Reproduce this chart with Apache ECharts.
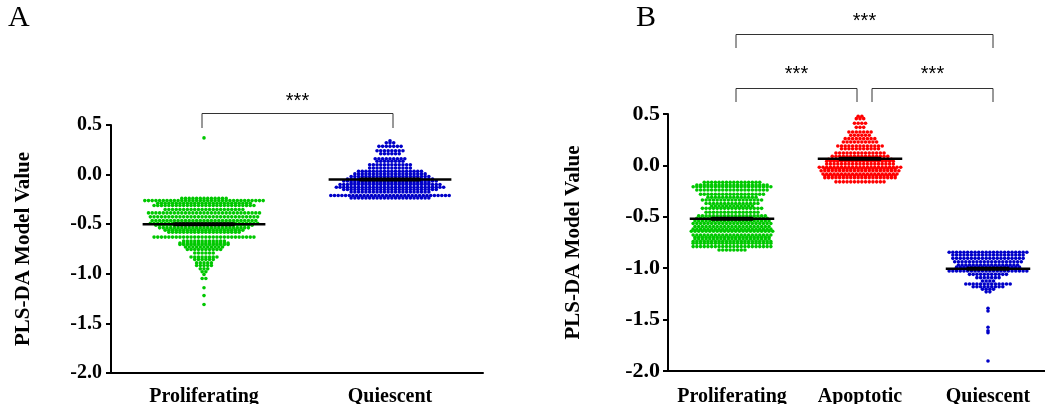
<!DOCTYPE html>
<html lang="en">
<head>
<meta charset="UTF-8">
<title>PLS-DA Model Value</title>
<script src="https://cdn.jsdelivr.net/npm/echarts@6/dist/echarts.min.js"></script>
<style>
    *{
        margin: 0;
        padding: 0;
    }
    html, body{
        width: 1045px;
        height: 404px;
        background: #fff;
    }
    .container{
        width: 1045px;
        height: 404px;
    }
</style>
</head>
<body>
<div class="container"></div>
<script>
    // each row: [value, number of dots lying side by side at that value]
    let aProliferating = [[0.37,1],[-0.24,13],[-0.262,33],[-0.29,26],[-0.312,28],[-0.352,22],[-0.386,31],
        [-0.426,30],[-0.463,29],[-0.49,30],[-0.51,27],[-0.537,25],[-0.56,22],[-0.58,20],[-0.63,28],
        [-0.67,12],[-0.69,14],[-0.705,14],[-0.73,11],[-0.755,10],[-0.79,6],[-0.83,8],[-0.855,6],
        [-0.89,5],[-0.916,5],[-0.95,3],[-0.98,2],[-1.007,1],[-1.047,2],[-1.14,1],[-1.22,1],[-1.31,1]];
    let aQuiescent = [[0.34,1],[0.32,3],[0.285,7],[0.24,8],[0.21,6],[0.16,9],[0.135,8],[0.10,12],
        [0.067,12],[0.034,18],[0.007,20],[-0.02,22],[-0.045,24],[-0.065,26],[-0.084,22],[-0.10,28],
        [-0.128,30],[-0.15,26],[-0.175,22],[-0.21,33],[-0.235,22]];
    let bProliferating = [[-0.165,16],[-0.19,20],[-0.207,22],[-0.24,20],[-0.28,18],[-0.31,14],[-0.336,17],
        [-0.37,15],[-0.395,12],[-0.418,17],[-0.456,15],[-0.49,19],[-0.515,20],[-0.54,21],[-0.565,22],
        [-0.595,21],[-0.62,22],[-0.64,23],[-0.677,22],[-0.70,21],[-0.716,21],[-0.74,22],[-0.758,22],
        [-0.79,22],[-0.823,8]];
    let bApoptotic = [[0.478,2],[0.455,3],[0.41,4],[0.37,3],[0.325,7],[0.293,6],[0.26,9],[0.228,10],
        [0.189,13],[0.162,11],[0.12,14],[0.088,16],[0.06,18],[0.04,19],[0.014,19],[-0.018,23],
        [-0.035,20],[-0.052,22],[-0.084,21],[-0.10,20],[-0.12,20],[-0.16,14]];
    let bQuiescent = [[-0.845,22],[-0.872,20],[-0.904,20],[-0.937,19],[-0.969,17],[-0.99,18],[-1.027,22],
        [-1.06,11],[-1.092,7],[-1.125,4],[-1.154,13],[-1.18,9],[-1.205,4],[-1.23,2],[-1.39,1],
        [-1.416,1],[-1.575,1],[-1.608,1],[-1.627,1],[-1.903,1]];

    let catsA = ['Proliferating', 'Quiescent'];
    let catsB = ['Proliferating', 'Apoptotic', 'Quiescent'];
    let meansA = [-0.50, -0.05];
    let meansB = [-0.52, 0.065, -1.005];

    let green = '#00c800', red = '#ff0000', blue = '#0000c8';
    let gridA = {left: 111, top: 125, width: 372, height: 248, outerBoundsMode: 'none'};
    let gridB = {left: 668, top: 114, width: 384, height: 257, outerBoundsMode: 'none'};
    let dotGap = 3.7;
    let serif = '"Liberation Serif", "Times New Roman", serif';

    let container = document.querySelector('.container');
    let mycharts = echarts.init(container);

    // lay the dots of each row side by side round the column centre
    function swarm(rows, idx, bandPx) {
        let step = dotGap / bandPx;
        let pts = [];
        rows.forEach(r => {
            for (let i = 0; i < r[1]; i++) {
                pts.push([idx + (i - (r[1] - 1) / 2) * step, r[0]]);
            }
        });
        return pts;
    }

    function meanItem(params, api) {
        let x = api.value(0), y = api.value(1);
        let a = api.coord([x - 0.33, y]), b = api.coord([x + 0.33, y]);
        let c = api.coord([x - 0.165, y]), d = api.coord([x + 0.165, y]);
        return {type: 'group', children: [
            {type: 'line', shape: {x1: a[0], y1: a[1], x2: b[0], y2: b[1]}, style: {stroke: '#000', lineWidth: 2.5}},
            {type: 'line', shape: {x1: c[0], y1: c[1], x2: d[0], y2: d[1]}, style: {stroke: '#000', lineWidth: 4}}
        ]};
    }

    function catAxis(gridIndex, cats, margin) {
        return {
            type: 'category', gridIndex, data: cats,
            axisLine: {onZero: false, lineStyle: {color: '#000', width: 2}},
            axisTick: {alignWithLabel: true, length: 5, lineStyle: {color: '#000', width: 2}},
            axisLabel: {color: '#000', fontFamily: serif, fontWeight: 'bold', fontSize: 20, margin, interval: 0},
            splitLine: {show: false}
        };
    }
    function hiddenAxis(gridIndex, n) {
        return {type: 'value', gridIndex, min: -0.5, max: n - 0.5, show: false,
            axisLine: {onZero: false}, splitLine: {show: false}};
    }
    function valAxis(gridIndex, fontSize, margin, nameGap) {
        return {
            type: 'value', gridIndex, min: -2, max: 0.5, interval: 0.5,
            name: 'PLS-DA Model Value', nameLocation: 'middle', nameGap,
            nameTextStyle: {color: '#000', fontFamily: serif, fontWeight: 'bold', fontSize: 21},
            axisLine: {show: true, onZero: false, lineStyle: {color: '#000', width: 2}},
            axisTick: {show: true, length: 5, lineStyle: {color: '#000', width: 2}},
            axisLabel: {color: '#000', fontFamily: serif, fontWeight: 'bold', fontSize, margin,
                formatter: v => v.toFixed(1)},
            splitLine: {show: false}
        };
    }
    function dots(rows, idx, xAxisIndex, yAxisIndex, color, bandPx) {
        return {type: 'scatter', xAxisIndex, yAxisIndex, data: swarm(rows, idx, bandPx),
            symbolSize: 3.6, itemStyle: {color, opacity: 1}, silent: true, z: 2};
    }

    let bandA = gridA.width / catsA.length, bandB = gridB.width / catsB.length;

    let options = {
        backgroundColor: '#fff',
        animation: false,
        grid: [gridA, gridB],
        xAxis: [catAxis(0, catsA, 14), hiddenAxis(0, catsA.length), catAxis(1, catsB, 16), hiddenAxis(1, catsB.length)],
        yAxis: [valAxis(0, 20, 9, 77), valAxis(1, 22, 8, 84)],
        series: [
            dots(aProliferating, 0, 1, 0, green, bandA),
            dots(aQuiescent, 1, 1, 0, blue, bandA),
            dots(bProliferating, 0, 3, 1, green, bandB),
            dots(bApoptotic, 1, 3, 1, red, bandB),
            dots(bQuiescent, 2, 3, 1, blue, bandB),
            {type: 'custom', xAxisIndex: 1, yAxisIndex: 0, renderItem: meanItem, z: 5,
                data: meansA.map((m, i) => [i, m])},
            {type: 'custom', xAxisIndex: 3, yAxisIndex: 1, renderItem: meanItem, z: 5,
                data: meansB.map((m, i) => [i, m])}
        ]
    };
    mycharts.setOption(options);

    // significance brackets above the columns
    let pxA = i => mycharts.convertToPixel({xAxisIndex: 1}, i);
    let pxB = i => mycharts.convertToPixel({xAxisIndex: 3}, i);
    let lineStyle = {stroke: '#333', lineWidth: 1, fill: null};
    function bracket(x1, x2, yTop, yEnd) {
        return {type: 'polyline', shape: {points: [[x1, yEnd], [x1, yTop], [x2, yTop], [x2, yEnd]]}, style: lineStyle};
    }
    function stars(x, y) {
        return {type: 'text', x, y, style: {text: '***', fill: '#000', font: '20px "Liberation Sans", Arial, sans-serif',
            align: 'center', verticalAlign: 'middle'}};
    }
    function letter(t, x) {
        return {type: 'text', x, y: 3, style: {text: t, fill: '#000', font: '30px "Liberation Serif", "Times New Roman", serif'}};
    }
    let a0 = pxA(0) - 2, a1 = pxA(1) + 3;
    let b0 = pxB(0) + 4, b1 = pxB(1), b2 = pxB(2) + 5;
    mycharts.setOption({
        graphic: [
            letter('A', 8), letter('B', 636),
            bracket(a0, a1, 113.5, 128), stars((a0 + a1) / 2, 101),
            bracket(b0, b2, 34.5, 48), stars((b0 + b2) / 2, 21),
            bracket(b0, b1 - 3, 88.5, 102), stars((b0 + b1 - 3) / 2, 74),
            bracket(b1 + 12, b2, 88.5, 102), stars((b1 + 12 + b2) / 2, 74)
        ]
    });
</script>
</body>
</html>
